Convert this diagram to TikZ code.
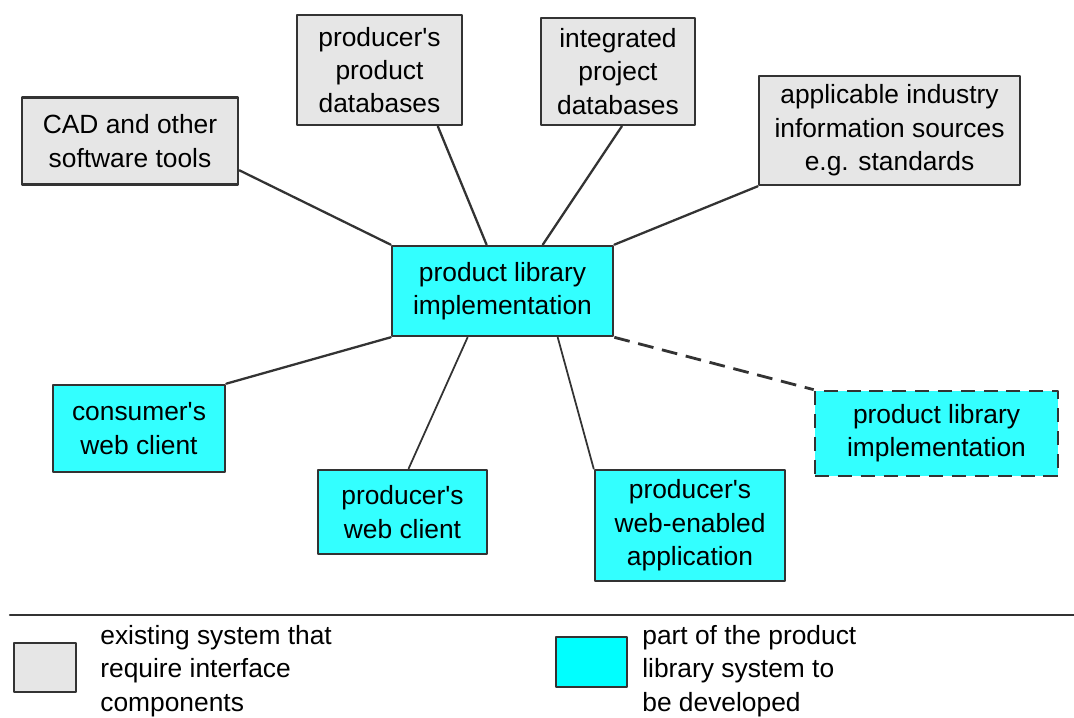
\documentclass[tikz,border=0pt]{standalone}
\usepackage[svgnames]{xcolor}
\usepackage{fontspec}
\setmainfont{Liberation Sans}
\usepackage{tikz}
\usetikzlibrary{positioning}
\usetikzlibrary{calc}
\definecolor{boxgray}{HTML}{E6E6E6}
\definecolor{boxcyan}{HTML}{33FFFF}
\definecolor{keycyan}{HTML}{00FFFF}
\definecolor{edgegray}{HTML}{333333}
\newcommand{\ap}{\textquotesingle}

\begin{document}
\begin{tikzpicture}[line cap=round,line join=round,x=1cm,y=1cm,
  box/.style={draw=edgegray,line width=1.5pt,align=center,inner sep=0pt,font=\fontsize{15}{19}\selectfont},
  oldsys/.style={box,fill=boxgray},
  newsys/.style={box,fill=boxcyan},
  link/.style={line width=1.3pt,color=edgegray},
  thinlink/.style={line width=1pt,color=edgegray},
  dashlink/.style={line width=1.6pt,color=edgegray,line cap=butt,dash pattern=on 9pt off 5pt},
  legendtext/.style={anchor=west,align=left,inner sep=0pt,font=\fontsize{15}{19}\selectfont}]
\useasboundingbox (0,0) rectangle (21.48,14.36);
% existing systems
\node[oldsys,minimum width=4.32cm,minimum height=1.74cm] (cad) at (2.60,11.54) {CAD and other\\software tools};
\node[oldsys,minimum width=3.30cm,minimum height=2.20cm] (proddb) at (7.59,12.96) {producer\ap s\\product\\databases};
\node[oldsys,minimum width=3.08cm,minimum height=2.14cm] (projdb) at (12.36,12.93) {integrated\\project\\databases};
\node[oldsys,minimum width=5.22cm,minimum height=2.18cm] (industry) at (17.79,11.75) {applicable industry\\information sources\\e.g. standards};
% product library system
\node[newsys,minimum width=4.42cm,minimum height=1.80cm] (hub) at (10.05,8.54) {product library\\implementation};
\node[newsys,minimum width=3.44cm,minimum height=1.74cm] (consumer) at (2.78,5.79) {consumer\ap s\\web client};
\node[newsys,minimum width=3.38cm,minimum height=1.68cm] (prodclient) at (8.05,4.12) {producer\ap s\\web client};
\node[newsys,minimum width=3.80cm,minimum height=2.22cm] (webapp) at (13.80,3.85) {producer\ap s\\web-enabled\\application};
\node[newsys,line cap=butt,dash pattern=on 8pt off 5pt,minimum width=4.86cm,minimum height=1.70cm] (remote) at (18.73,5.69) {product library\\implementation};
% connectors
\draw [link] (cad.-15) -- (hub.north west);
\draw [link] (proddb.-44) -- (hub.109);
\draw [link] (projdb.-86) -- (hub.49);
\draw [link] (industry.south west) -- (hub.north east);
\draw [link] (consumer.north east) -- (hub.south west);
\draw [thinlink] (prodclient.82) -- (hub.-127);
\draw [thinlink] (webapp.north west) -- (hub.-40);
\draw [dashlink] (hub.south east) -- (remote.north west);
% legend
\draw [line width=1.4pt,color=edgegray] (0.2,2.06) -- (21.48,2.06);
\node[oldsys,minimum width=1.24cm,minimum height=0.98cm] (keyold) at (0.90,1.01) {};
\node[legendtext] (keyoldtext) at (2.0,0.94) {existing system that\\require interface\\components};
\node[box,fill=keycyan,minimum width=1.42cm,minimum height=1.00cm] (keynew) at (11.83,1.12) {};
\node[legendtext] (keynewtext) at (12.84,0.94) {part of the product\\library system to\\be developed};
\end{tikzpicture}
\end{document}
